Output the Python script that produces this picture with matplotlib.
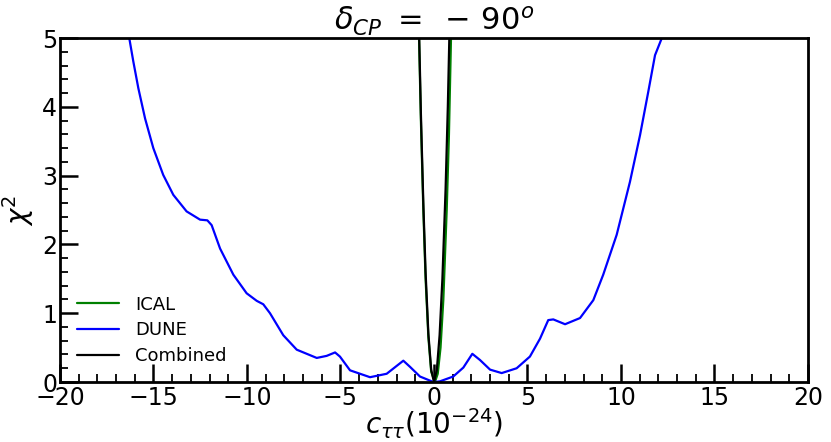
import numpy as np
import matplotlib
matplotlib.use("Agg")
import matplotlib.pyplot as plt
from matplotlib.ticker import MultipleLocator

# DUNE chi^2 curve
dune_x = [-16.5, -16.29, -16.08, -15.81, -15.45, -15.01, -14.48, -13.94, -13.23, -12.51,
          -12.12, -11.89, -11.44, -10.73, -10.02, -9.48, -9.13, -8.77, -8.06, -7.34,
          -6.27, -5.74, -5.29, -5.03, -4.49, -3.42, -2.53, -1.64, -1.28, -0.75,
          -0.12, 0.0, 0.32, 1.03, 1.57, 2.05, 2.46, 3.0, 3.62, 4.42,
          5.13, 5.67, 6.11, 6.38, 7.01, 7.81, 8.52, 9.05, 9.77, 10.48,
          11.02, 11.46, 11.82, 12.17, 12.3]
dune_y = [5.3, 4.99, 4.66, 4.27, 3.83, 3.40, 3.01, 2.72, 2.48, 2.36,
          2.35, 2.28, 1.94, 1.56, 1.29, 1.18, 1.13, 1.00, 0.68, 0.47,
          0.35, 0.38, 0.43, 0.37, 0.17, 0.07, 0.12, 0.31, 0.22, 0.08,
          0.01, 0.0, 0.01, 0.08, 0.21, 0.41, 0.32, 0.18, 0.13, 0.20,
          0.37, 0.63, 0.90, 0.91, 0.84, 0.93, 1.19, 1.56, 2.14, 2.91,
          3.59, 4.22, 4.75, 4.99, 5.2]

# ICAL chi^2 curve
ical_x = [-0.9, -0.8, -0.7, -0.57, -0.45, -0.3, -0.15, 0.05, 0.2, 0.35, 0.5, 0.68, 0.8, 0.91, 1.0]
ical_y = [6.2, 5.0, 3.8, 2.5, 1.5, 0.65, 0.15, 0.0, 0.12, 0.5, 1.2, 2.5, 3.6, 5.0, 6.1]

# Combined chi^2 curve
comb_x = [-0.9, -0.79, -0.7, -0.57, -0.45, -0.3, -0.15, 0.0, 0.15, 0.3, 0.45, 0.62, 0.74, 0.82, 0.9]
comb_y = [6.3, 5.0, 3.9, 2.6, 1.6, 0.7, 0.18, 0.0, 0.17, 0.68, 1.5, 2.8, 4.0, 5.0, 6.0]

fig = plt.figure(figsize=(8.31, 4.42), dpi=100)
ax = fig.add_axes([0.0722, 0.1357, 0.9001, 0.7783])

kw = dict(lw=1.6, solid_joinstyle="round", solid_capstyle="round")
ax.plot(ical_x, ical_y, color="green", label="ICAL", **kw)
ax.plot(dune_x, dune_y, color="blue", label="DUNE", **kw)
ax.plot(comb_x, comb_y, color="black", label="Combined", **kw)

ax.set_xlim(-20, 20)
ax.set_ylim(0, 5)
ax.xaxis.set_major_locator(MultipleLocator(5))
ax.xaxis.set_minor_locator(MultipleLocator(1))
ax.yaxis.set_major_locator(MultipleLocator(1))
ax.yaxis.set_minor_locator(MultipleLocator(0.2))
ax.tick_params(which="both", direction="in", top=False, right=False, labelsize=17)
ax.tick_params(which="major", length=13, width=1.8)
ax.tick_params(which="minor", length=6, width=1.3)
ax.tick_params(axis="y", pad=2)
ax.tick_params(axis="x", pad=3)
for s in ax.spines.values():
    s.set_linewidth(2)

ax.set_xlabel(r"$c_{\tau\tau}(10^{-24})$", fontsize=20, labelpad=-3)
ax.set_ylabel(r"$\chi^2$", fontsize=20, labelpad=4)
ax.set_title(r"$\delta_{CP}\ =\ -\,90^o$", fontsize=22, pad=1)

ax.legend(loc="lower left", frameon=False, fontsize=13, handlelength=2.3,
          handletextpad=0.9, borderaxespad=0.55, labelspacing=0.42)

fig.savefig("out.png", dpi=100)
